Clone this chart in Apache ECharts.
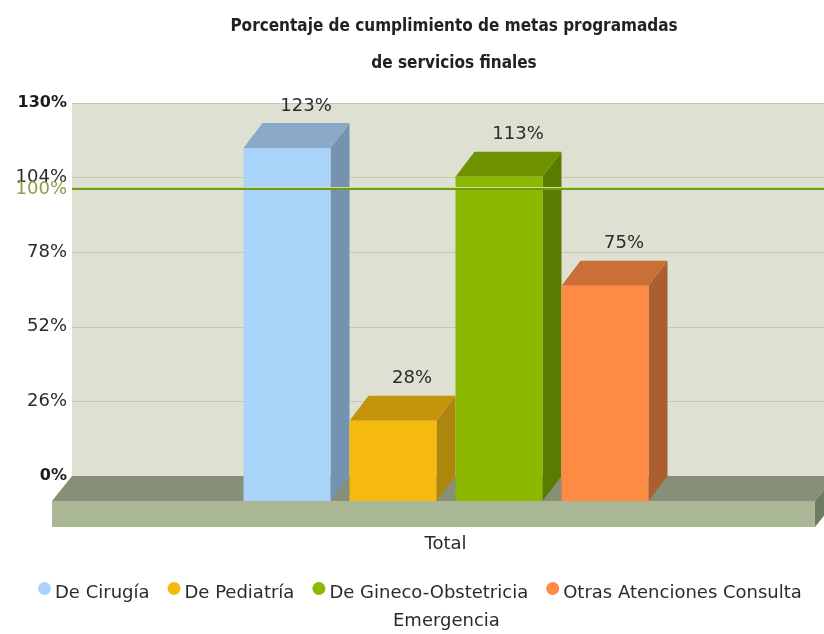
<!DOCTYPE html>
<html>
<head>
<meta charset="utf-8">
<style>
  html, body { margin: 0; padding: 0; background: #fff; }
  #chart { width: 824px; height: 634px; }
</style>
<script src="https://cdn.jsdelivr.net/npm/echarts@6/dist/echarts.min.js"></script>
</head>
<body>
<div id="chart"></div>
<script>
const seriesNames = ['De Cirugía', 'De Pediatría', 'De Gineco-Obstetricia', 'Otras Atenciones Consulta'];
const seriesValues = [123, 28, 113, 75];
const categories = ['Total'];
const targetValue = 100;
const frontColors = ['#a9d3f8', '#f6b90e', '#8cb900', '#fd8b43'];
const topColors = ['#8aa9c6', '#c4950b', '#6f9300', '#ca6f36'];
const sideColors = ['#7593b0', '#ad860c', '#587c00', '#ac5f2e'];

const FONT = '"DejaVu Sans", Verdana, sans-serif';
const BAR_W = 87;
const BAR_GAP = 19;
const DX = 19;
const DY = 25;
const FLOOR_H = 26;

const chart = echarts.init(document.getElementById('chart'));

function poly(points, fill) {
  return { type: 'polygon', shape: { points }, style: { fill } };
}

function renderBar(i) {
  return function (params, api) {
    const base = api.coord([0, 0]);
    const top = api.coord([0, api.value(1)]);
    const x0 = base[0] - 2 + (i - seriesValues.length / 2) * (BAR_W + BAR_GAP) + BAR_GAP / 2;
    const x1 = x0 + BAR_W;
    const yb = base[1] + DY;
    const yt = top[1] + DY;
    return {
      type: 'group',
      children: [
        poly([[x1, yt], [x1 + DX, yt - DY], [x1 + DX, yb - DY], [x1, yb]], sideColors[i]),
        poly([[x0, yt], [x0 + DX, yt - DY], [x1 + DX, yt - DY], [x1, yt]], topColors[i]),
        { type: 'rect', shape: { x: x0, y: yt, width: BAR_W, height: yb - yt }, style: { fill: frontColors[i] } },
        {
          type: 'text',
          style: {
            text: api.value(1) + '%',
            x: x0 + BAR_W / 2 + DX,
            y: yt - DY - 17,
            align: 'center',
            verticalAlign: 'middle',
            font: '18px ' + FONT,
            fill: '#2b2b2b'
          }
        }
      ]
    };
  };
}

function renderFloor(params, api) {
  const base = api.coord([0, 0]);
  const left = params.coordSys.x;
  const right = left + 743;
  const y = base[1];
  return {
    type: 'group',
    children: [
      poly([[left, y], [right + 20, y], [right, y + DY], [left - 20, y + DY]], '#878f79'),
      { type: 'rect', shape: { x: left - 20, y: y + DY, width: 763, height: FLOOR_H }, style: { fill: '#a9b795' } },
      poly([[right, y + DY], [right + 20, y], [right + 20, y + FLOOR_H], [right, y + DY + FLOOR_H]], '#6f7a64')
    ]
  };
}

const option = {
  animation: false,
  title: {
    text: 'Porcentaje de cumplimiento de metas programadas\nde servicios finales',
    left: 449,
    top: 3,
    textAlign: 'center',
    textStyle: {
      fontFamily: '"DejaVu Sans Condensed", "Liberation Sans Narrow", sans-serif',
      fontSize: 17,
      fontWeight: 'bold',
      lineHeight: 37,
      color: '#222'
    }
  },
  legend: {
    data: seriesNames,
    left: 33,
    top: 577,
    icon: 'circle',
    itemWidth: 13,
    itemHeight: 13,
    itemGap: 18,
    formatter: name => '{t|' + name + '}',
    textStyle: {
      fontFamily: FONT,
      fontSize: 18,
      color: '#2b2b2b',
      rich: { t: { fontFamily: FONT, fontSize: 18, color: '#2b2b2b', padding: [10, 0, 0, -1] } }
    }
  },
  grid: { left: 72, right: 0, top: 103, height: 373, backgroundColor: '#dee1d2', show: true, borderWidth: 0 },
  xAxis: {
    type: 'category',
    data: categories,
    axisLine: { show: false },
    axisTick: { show: false },
    axisLabel: { margin: 59, padding: [0, 5, 0, 0], fontFamily: FONT, fontSize: 18, color: '#2b2b2b' }
  },
  yAxis: {
    type: 'value',
    min: 0,
    max: 130,
    interval: 26,
    axisLine: { show: false },
    axisTick: { show: false },
    splitLine: { lineStyle: { color: '#c4c7b8', width: 1 } },
    axisLabel: {
      margin: 5,
      fontFamily: FONT,
      fontSize: 18,
      color: '#2b2b2b',
      formatter: v => (v === 0 || v === 130 ? '{b|' + v + '%}' : v + '%'),
      rich: { b: { fontFamily: FONT, fontSize: 16, fontWeight: 'bold', color: '#1c1c1c' } }
    }
  },
  series: [
    {
      type: 'custom',
      name: 'floor',
      z: 1,
      silent: true,
      renderItem: renderFloor,
      data: [[0, 0]]
    },
    ...seriesNames.map((name, i) => ({
      type: 'custom',
      name,
      z: 2,
      itemStyle: { color: frontColors[i] },
      renderItem: renderBar(i),
      encode: { x: 0, y: 1 },
      data: [[0, seriesValues[i]]]
    })),
    {
      type: 'line',
      name: 'target',
      z: 5,
      silent: true,
      data: [],
      markLine: {
        silent: true,
        symbol: 'none',
        animation: false,
        lineStyle: { type: 'solid', color: '#6f9a1c', width: 2, shadowColor: '#d3de86', shadowOffsetY: -1, shadowBlur: 0 },
        label: { position: 'start', distance: 5, formatter: targetValue + '%', fontFamily: FONT, fontSize: 18, color: '#8aa045' },
        data: [{ yAxis: targetValue }]
      }
    }
  ],
  graphic: [
    {
      type: 'text',
      left: 393,
      top: 612,
      style: { text: 'Emergencia', font: '18px ' + FONT, fill: '#2b2b2b' }
    }
  ]
};

chart.setOption(option);
window.addEventListener('resize', () => chart.resize());
</script>
</body>
</html>
